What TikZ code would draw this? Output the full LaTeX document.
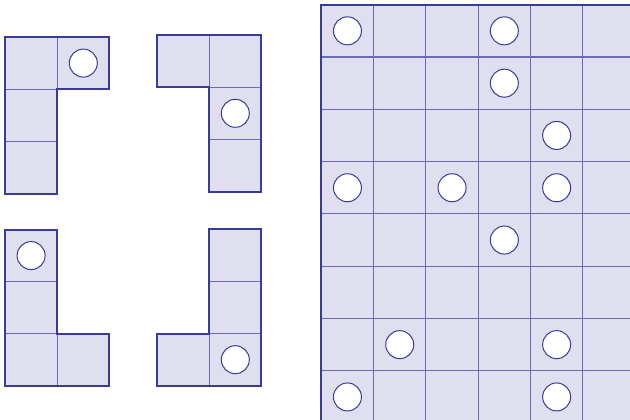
\documentclass[tikz,border=0pt]{standalone}
\definecolor{fillc}{HTML}{DFDFEF}
\definecolor{linec}{HTML}{3A3A98}
\definecolor{innerc}{HTML}{6C6CB2}
\begin{document}
\begin{tikzpicture}[x=1pt,y=-1pt,
  cellbox/.style={fill=fillc,draw=innerc,line width=1.1pt},
  outline/.style={draw=linec,line width=2pt,line join=miter},
  hole/.style={fill=white,draw=linec,line width=1pt}]
\useasboundingbox (0,0) rectangle (630,420);
\clip (0,0) rectangle (630,420);
\def\c{52.2}
% Piece A (top-left)
\foreach \x/\y in {5/37, 57.2/37, 5/89.2, 5/141.4} {\draw[cellbox] (\x,\y) rectangle ++(\c,\c);}
\draw[outline] (5,37) -- (109.4,37) -- (109.4,89.2) -- (57.2,89.2) -- (57.2,193.6) -- (5,193.6) -- cycle;
\draw[hole] (83.3,63.1) circle (14);
% Piece B (top-right)
\foreach \x/\y in {157/35, 209.2/35, 209.2/87.2, 209.2/139.4} {\draw[cellbox] (\x,\y) rectangle ++(\c,\c);}
\draw[outline] (157,35) -- (261.4,35) -- (261.4,191.6) -- (209.2,191.6) -- (209.2,87.2) -- (157,87.2) -- cycle;
\draw[hole] (235.3,113.3) circle (14);
% Piece C (bottom-left)
\foreach \x/\y in {5/229.5, 5/281.7, 5/333.9, 57.2/333.9} {\draw[cellbox] (\x,\y) rectangle ++(\c,\c);}
\draw[outline] (5,229.5) -- (57.2,229.5) -- (57.2,333.9) -- (109.4,333.9) -- (109.4,386.1) -- (5,386.1) -- cycle;
\draw[hole] (31.1,255.6) circle (14);
% Piece D (bottom-right)
\foreach \x/\y in {209.2/229.2, 209.2/281.4, 209.2/333.6, 157/333.6} {\draw[cellbox] (\x,\y) rectangle ++(\c,\c);}
\draw[outline] (209.2,229.2) -- (261.4,229.2) -- (261.4,385.8) -- (157,385.8) -- (157,333.6) -- (209.2,333.6) -- cycle;
\draw[hole] (235.3,359.7) circle (14);
% Grid
\def\g{52.3}
\fill[fillc] (321.3,4.7) rectangle (640,430);
\foreach \i in {1,...,6} {\draw[innerc,line width=1.1pt] (321.3+\i*\g,4.7) -- (321.3+\i*\g,430);}
\foreach \j in {1,...,8} {\draw[innerc,line width=1.1pt] (321.3,4.7+\j*\g) -- (640,4.7+\j*\g);}
\draw[outline] (321.3,430) -- (321.3,4.7) -- (640,4.7);
\foreach \cc/\r in {0/0,3/0,3/1,4/2,0/3,2/3,4/3,3/4,1/6,4/6,0/7,4/7} {
  \draw[hole] (321.3+\cc*\g+\g/2, 4.7+\r*\g+\g/2) circle (14);
}
\end{tikzpicture}
\end{document}
